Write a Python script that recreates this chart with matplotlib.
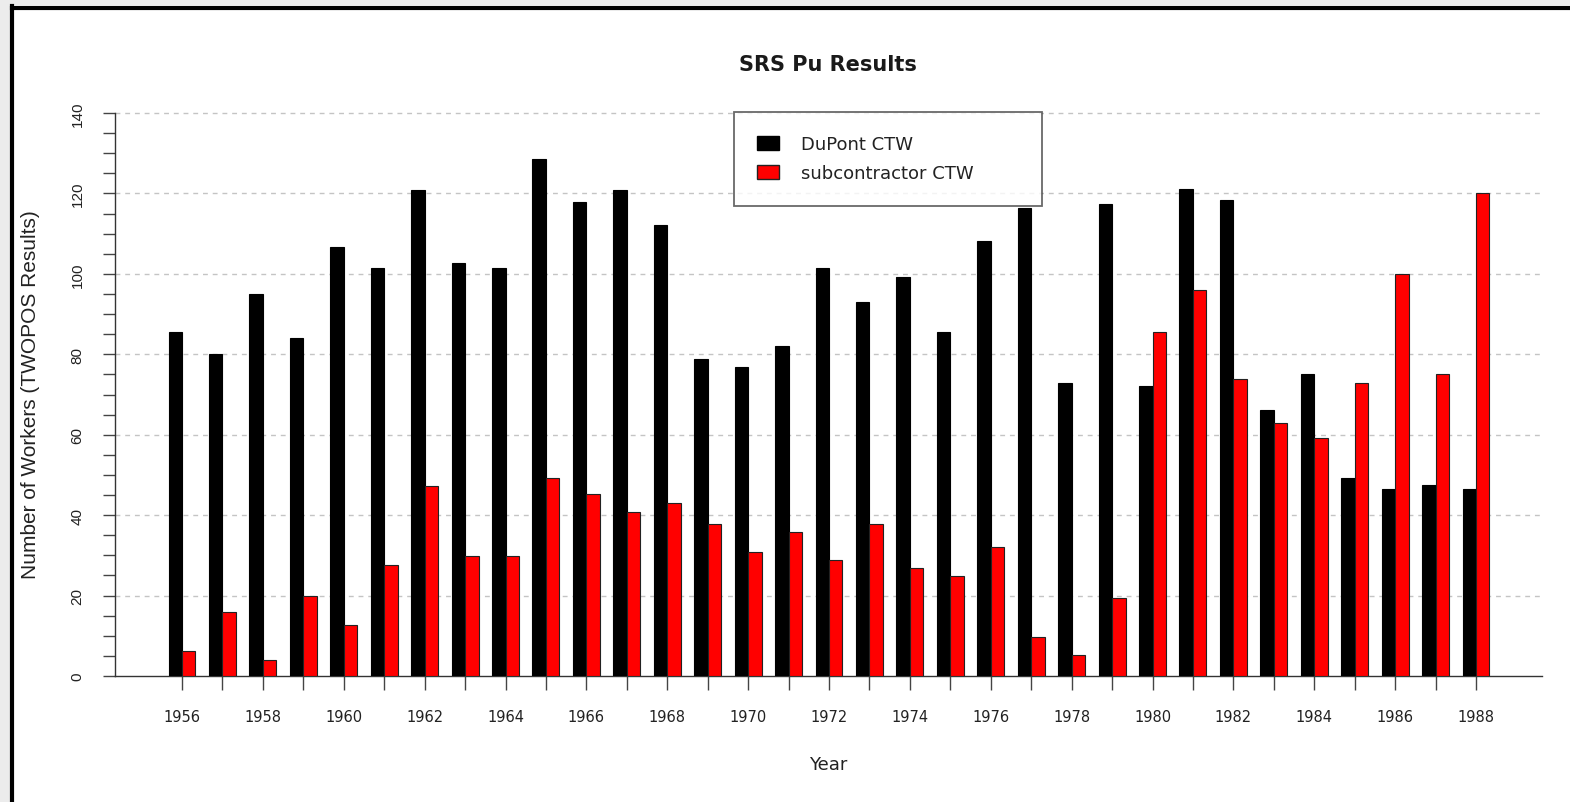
import matplotlib
matplotlib.use("Agg")
import matplotlib.pyplot as plt
from matplotlib.patches import Rectangle, Patch
from matplotlib.lines import Line2D
import numpy as np

years = list(range(1956, 1989))
dupont = [85.5, 80, 95, 84, 106.8, 101.5, 120.9, 102.6, 101.5, 128.5, 117.9, 120.9,
          112.2, 78.9, 76.9, 82.1, 101.5, 93, 99.1, 85.5, 108.1, 116.3, 72.8, 117.3,
          72, 121, 118.3, 66.2, 75, 49.3, 46.5, 47.5, 46.5]
subcontractor = [6.2, 15.9, 4.1, 20, 12.8, 27.7, 47.2, 29.8, 29.8, 49.2, 45.3, 40.9,
                 42.9, 37.7, 30.9, 35.8, 28.8, 37.7, 26.8, 24.9, 32.1, 9.8, 5.3, 19.3,
                 85.5, 96, 73.9, 63, 59.1, 72.8, 100, 75, 120]
series_labels = ["DuPont CTW", "subcontractor CTW"]
title = "SRS Pu Results"
xlabel = "Year"
ylabel = "Number of Workers (TWOPOS Results)"

W, H = 1570, 803
fig = plt.figure(figsize=(W / 100, H / 100), dpi=100)
fig.patch.set_facecolor("white")

# outer frame (gray margin + black border on top/left)
fig.add_artist(Rectangle((0, 0), 10 / W, 1, transform=fig.transFigure,
                         facecolor="#ececec", edgecolor="none", zorder=0))
fig.add_artist(Rectangle((0, 1 - 6 / H), 1, 6 / H, transform=fig.transFigure,
                         facecolor="#ececec", edgecolor="none", zorder=0))
fig.add_artist(Line2D([11.5 / W, 11.5 / W], [0, 1 - 7 / H], transform=fig.transFigure,
                      color="black", lw=3, solid_capstyle="projecting"))
fig.add_artist(Line2D([11.5 / W, 1], [1 - 8.5 / H, 1 - 8.5 / H], transform=fig.transFigure,
                      color="black", lw=3, solid_capstyle="projecting"))

left, right = 115 / W, 1542 / W
bottom, top = (H - 677) / H, (H - 114) / H
ax = fig.add_axes([left, bottom, right - left, top - bottom])

x = np.array(years, dtype=float)
w = 1 / 3
ax.bar(x - w / 2, dupont, width=w, color="black", edgecolor="black", linewidth=0.8, zorder=3)
ax.bar(x + w / 2, subcontractor, width=w, color="#ff0000", edgecolor="#222222", linewidth=0.8, zorder=3)

ax.set_xlim(1954.343, 1989.632)
ax.set_ylim(0, 140)

# grid
for yv in range(20, 141, 20):
    ax.axhline(yv, color="#c4c4c4", lw=1.0, ls=(0, (3.5, 3.5)), zorder=1, clip_on=False)

for s in ["top", "right"]:
    ax.spines[s].set_visible(False)
ax.spines["left"].set_color("#333333")
ax.spines["bottom"].set_color("#333333")
ax.spines["left"].set_linewidth(1.0)
ax.spines["bottom"].set_linewidth(1.0)

ax.set_xticks(years)
ax.set_xticklabels([str(y) if y % 2 == 0 else "" for y in years])
ax.set_yticks(range(0, 141, 20))
ax.set_yticks(range(0, 141, 5), minor=True)
ax.tick_params(axis="x", length=10, width=1, color="#444444", pad=14,
               labelsize=10.5, labelcolor="#222222")
ax.tick_params(axis="y", which="both", length=9, width=1, color="#444444")
ax.tick_params(axis="y", which="major", pad=13, labelsize=11, labelcolor="#222222")
for lab in ax.get_xticklabels():
    lab.set_family("DejaVu Sans")
for lab in ax.get_yticklabels():
    lab.set_family("Liberation Sans")
    lab.set_rotation(90)
    lab.set_va("center")

fig.text(827.5 / W, 1 - 65 / H, title, ha="center", va="center", fontsize=15,
         fontweight="bold", family="DejaVu Sans", color="#1a1a1a")
fig.text(828 / W, 1 - 765 / H, xlabel, ha="center", va="center", fontsize=13,
         family="DejaVu Sans", color="#222222")
fig.text(31 / W, 1 - 395 / H, ylabel, ha="center", va="center", fontsize=15,
         rotation=90, family="Liberation Sans", color="#222222")

handles = [Patch(facecolor="black", edgecolor="black"),
           Patch(facecolor="#ff0000", edgecolor="#222222")]
x0 = 734 / W
y1 = 1 - 113 / H
y0 = 1 - 206 / H
leg = fig.legend(handles, series_labels, loc="upper left",
                 bbox_to_anchor=(x0, y0, (1042 - 734) / W, y1 - y0),
                 mode="expand", borderaxespad=0, fancybox=False, frameon=True,
                 prop={"family": "DejaVu Sans", "size": 13},
                 handlelength=1.2, handleheight=0.8, handletextpad=1.2,
                 borderpad=1.3, labelspacing=0.6)
leg.get_frame().set_edgecolor("#444444")
leg.get_frame().set_linewidth(1.3)
for t in leg.get_texts():
    t.set_color("#222222")

fig.savefig("out.png", dpi=100)
